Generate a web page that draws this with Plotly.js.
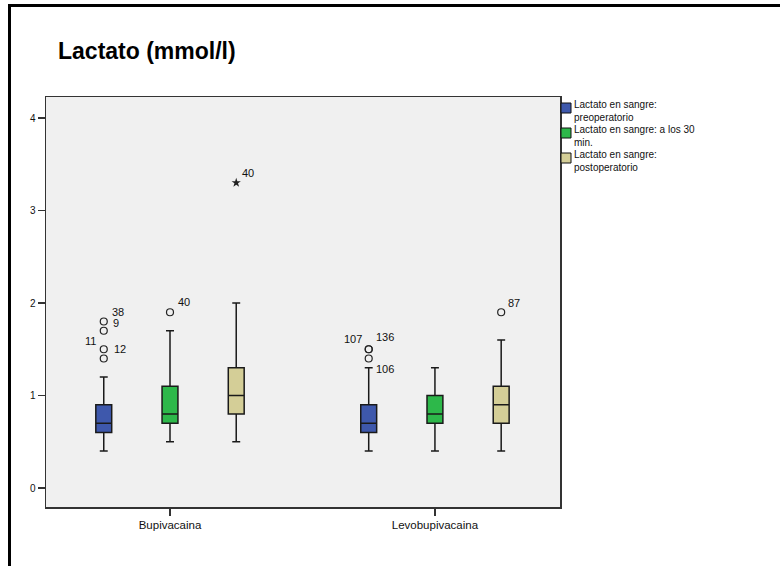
<!DOCTYPE html>
<html>
<head>
<meta charset="utf-8">
<script src="https://cdn.plot.ly/plotly-3.0.1.min.js"></script>
<style>
  html, body { margin: 0; padding: 0; background: #fff; width: 780px; height: 566px; overflow: hidden; }
  #frame { position: absolute; left: 8px; top: 4px; width: 772px; height: 562px;
           border-top: 3px solid #000; border-left: 3px solid #000; box-sizing: border-box; }
  #chart { position: absolute; left: 11px; top: 7px; width: 769px; height: 559px; }
</style>
</head>
<body>
<div id="frame"></div>
<div id="chart"></div>
<script>
// ---- data ----
const groups = ['Bupivacaina', 'Levobupivacaina'];
const seriesLine1 = ['Lactato en sangre:', 'Lactato en sangre: a los 30', 'Lactato en sangre:'];
const seriesLine2 = ['preoperatorio', 'min.', 'postoperatorio'];
const seriesColors = ['#3E58AC', '#2DB84A', '#D4CE97'];
// per series, values for [Bupivacaina, Levobupivacaina]
const lowerWhisker = [[0.4, 0.4], [0.5, 0.4], [0.5, 0.4]];
const q1Values     = [[0.6, 0.6], [0.7, 0.7], [0.8, 0.7]];
const medianValues = [[0.7, 0.7], [0.8, 0.8], [1.0, 0.9]];
const q3Values     = [[0.9, 0.9], [1.1, 1.0], [1.3, 1.1]];
const upperWhisker = [[1.2, 1.3], [1.7, 1.3], [2.0, 1.6]];
// outliers (circles) and extremes (stars)
const outlierSeries = [0, 0, 0, 0, 1, 0, 0, 0, 2];
const outlierGroup  = [0, 0, 0, 0, 0, 1, 1, 1, 1];
const outlierValue  = [1.8, 1.7, 1.5, 1.4, 1.9, 1.5, 1.5, 1.4, 1.9];
const outlierCase   = ['38', '9', '12', '11', '40', '107', '136', '106', '87'];
const extremeSeries = [2];
const extremeGroup  = [0];
const extremeValue  = [3.3];
const extremeCase   = ['40'];

// ---- layout helpers (positions/styles only) ----
const offsetStep = 0.25;
const pos = (s, g) => g + (s - 1) * offsetStep;
// label placement [xanchor, xshift, yshift] for each outlier label
const outlierLabelPlace = [
  ['left', 6, 10], ['left', 7, 8], ['left', 8, 0], ['right', -6, 18],
  ['left', 6, 10],
  ['right', -5, 10], ['left', 5, 12], ['left', 5, -10],
  ['left', 5, 9]
];
const extremeLabelPlace = [['left', 4, 10]];
// custom legend geometry (pixels below the top of the plot area)
const legendBoxTop = [6, 31, 56];

const FONT = 'Liberation Sans, Arial, Helvetica, sans-serif';
const traces = [];
for (let s = 0; s < 3; s++) {
  traces.push({
    type: 'box',
    name: seriesLine1[s] + ' ' + seriesLine2[s],
    x: groups.map((_, g) => pos(s, g)),
    q1: q1Values[s],
    median: medianValues[s],
    q3: q3Values[s],
    lowerfence: lowerWhisker[s],
    upperfence: upperWhisker[s],
    width: 0.06,
    whiskerwidth: 0.5,
    boxpoints: false,
    fillcolor: seriesColors[s],
    line: { color: '#1a1a1a', width: 1.5 },
    hoverinfo: 'skip'
  });
}
traces.push({
  type: 'scatter', mode: 'markers', showlegend: false, hoverinfo: 'skip',
  x: outlierValue.map((v, i) => pos(outlierSeries[i], outlierGroup[i])),
  y: outlierValue,
  marker: { symbol: 'circle-open', size: 7, color: '#222', line: { width: 1.2 } }
});
traces.push({
  type: 'scatter', mode: 'markers', showlegend: false, hoverinfo: 'skip',
  x: extremeValue.map((v, i) => pos(extremeSeries[i], extremeGroup[i])),
  y: extremeValue,
  marker: { symbol: 'star', size: 7, color: '#222' }
});

const annotations = [];
outlierCase.forEach((c, i) => {
  const p = outlierLabelPlace[i];
  annotations.push({
    x: pos(outlierSeries[i], outlierGroup[i]), y: outlierValue[i], xref: 'x', yref: 'y',
    text: c, showarrow: false, xanchor: p[0], yanchor: 'middle', xshift: p[1], yshift: p[2],
    font: { family: FONT, size: 11, color: '#111' }
  });
});
extremeCase.forEach((c, i) => {
  const p = extremeLabelPlace[i];
  annotations.push({
    x: pos(extremeSeries[i], extremeGroup[i]), y: extremeValue[i], xref: 'x', yref: 'y',
    text: c, showarrow: false, xanchor: p[0], yanchor: 'middle', xshift: p[1], yshift: p[2],
    font: { family: FONT, size: 11, color: '#111' }
  });
});

// legend drawn beside the plot
const shapes = [];
for (let s = 0; s < 3; s++) {
  shapes.push({
    type: 'rect', xref: 'paper', yref: 'paper',
    xsizemode: 'pixel', ysizemode: 'pixel', xanchor: 1, yanchor: 1,
    x0: 1, x1: 11, y0: -legendBoxTop[s], y1: -(legendBoxTop[s] + 10),
    fillcolor: seriesColors[s], line: { color: '#111', width: 1 }
  });
  annotations.push({
    xref: 'paper', yref: 'paper', x: 1, y: 1, xanchor: 'left', yanchor: 'middle',
    align: 'left', xshift: 13, yshift: -(legendBoxTop[s] + 7.5), showarrow: false,
    borderpad: 0,
    text: seriesLine1[s] + '<br>' + seriesLine2[s],
    font: { family: FONT, size: 10, color: '#111' }
  });
}

const layout = {
  width: 769, height: 559,
  margin: { l: 35, r: 220, t: 90, b: 59 },
  paper_bgcolor: '#ffffff',
  plot_bgcolor: '#F0F0F0',
  font: { family: FONT, color: '#111' },
  title: {
    text: 'Lactato (mmol/l)',
    font: { family: FONT, size: 23, color: '#000', weight: 'bold' },
    xref: 'container', yref: 'container',
    x: 47 / 769, xanchor: 'left',
    y: 1 - 44 / 559, yanchor: 'middle'
  },
  showlegend: false,
  boxmode: 'overlay',
  xaxis: {
    range: [-0.468, 1.472], tickmode: 'array', tickvals: [0, 1], ticktext: groups,
    ticks: 'outside', ticklen: 7, tickwidth: 1.2, tickcolor: '#333',
    showgrid: false, zeroline: false, showline: true, mirror: true,
    linecolor: '#333', linewidth: 1.5,
    tickfont: { family: FONT, size: 11.5, color: '#111' }, fixedrange: true
  },
  yaxis: {
    range: [-0.205, 4.227], tickmode: 'array', tickvals: [0, 1, 2, 3, 4],
    ticks: 'outside', ticklen: 7, tickwidth: 1.2, tickcolor: '#333',
    showgrid: false, zeroline: false, showline: true, mirror: true,
    linecolor: '#333', linewidth: 1.5,
    tickfont: { family: FONT, size: 10, color: '#111' }, fixedrange: true
  },
  shapes: shapes,
  annotations: annotations
};

Plotly.newPlot('chart', traces, layout, { staticPlot: true, displayModeBar: false });
</script>
</body>
</html>
